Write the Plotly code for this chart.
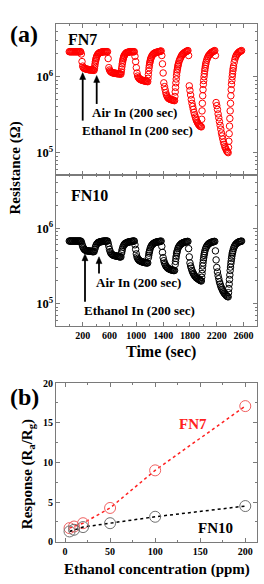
import plotly.graph_objects as go

# ---------------- data ----------------
# sampling times (s), one sample every 10 s
time_s = list(range(0, 2580, 10))

# log10(Resistance / Ohm), FN7 sensor
fn7_log = (
    [6.33] * 18 +
    # cycle 1 (exposure, recovery)
    [6.30, 6.20, 6.14, 6.12, 6.11, 6.11, 6.105, 6.10, 6.10, 6.10, 6.095, 6.095, 6.09, 6.09, 6.09, 6.09, 6.09, 6.09, 6.085, 6.085] +
    [6.14, 6.20, 6.24, 6.27, 6.29, 6.30, 6.31, 6.315, 6.32, 6.32, 6.325, 6.325, 6.33, 6.33, 6.33, 6.33, 6.33, 6.33, 6.33, 6.33] +
    # cycle 2
    [6.24, 6.12, 6.09, 6.075, 6.065, 6.06, 6.055, 6.05, 6.05, 6.05, 6.045, 6.045, 6.045, 6.04, 6.04, 6.04, 6.04, 6.04, 6.035, 6.035] +
    [6.10, 6.17, 6.22, 6.255, 6.28, 6.295, 6.305, 6.315, 6.32, 6.32, 6.325, 6.325, 6.33, 6.33, 6.33, 6.33, 6.33, 6.33, 6.33, 6.33] +
    # cycle 3
    [6.27, 6.20, 6.12, 6.05, 6.01, 5.99, 5.98, 5.97, 5.965, 5.96, 5.955, 5.955, 5.95, 5.95, 5.945, 5.945, 5.94, 5.94, 5.94, 5.935] +
    [6.03, 6.12, 6.18, 6.22, 6.25, 6.27, 6.285, 6.295, 6.305, 6.31, 6.315, 6.32, 6.32, 6.325, 6.325, 6.33, 6.33, 6.335, 6.335, 6.34] +
    # cycle 4
    [6.28, 6.17, 6.05, 5.92, 5.87, 5.83, 5.79, 5.76, 5.74, 5.725, 5.715, 5.71, 5.705, 5.70, 5.70, 5.695, 5.695, 5.69, 5.69, 5.685] +
    [5.80, 5.92, 6.02, 6.09, 6.14, 6.18, 6.21, 6.23, 6.25, 6.27, 6.285, 6.295, 6.305, 6.31, 6.32, 6.325, 6.33, 6.335, 6.34, 6.345] +
    # cycle 5
    [6.28, 5.88, 5.82, 5.76, 5.70, 5.65, 5.61, 5.57, 5.53, 5.50, 5.47, 5.44, 5.42, 5.40, 5.385, 5.37, 5.36, 5.35, 5.345, 5.34] +
    [5.55, 5.75, 5.90, 6.00, 6.08, 6.14, 6.19, 6.22, 6.245, 6.265, 6.28, 6.29, 6.30, 6.31, 6.32, 6.325, 6.33, 6.335, 6.34, 6.345] +
    # cycle 6
    [6.28, 5.66, 5.62, 5.57, 5.51, 5.46, 5.41, 5.36, 5.31, 5.26, 5.22, 5.18, 5.14, 5.11, 5.08, 5.06, 5.04, 5.02, 5.01, 5.00] +
    [5.15, 5.35, 5.55, 5.75, 5.90, 6.00, 6.08, 6.14, 6.19, 6.23, 6.26, 6.28, 6.295, 6.305, 6.315, 6.325, 6.33, 6.335, 6.34, 6.345]
)
# extra readings in the steep recovery parts (the instrument sampled faster than 10 s)
fn7_extra_t = [375, 385, 395, 405,
               775, 785, 795, 805, 815,
               1175, 1185, 1195, 1205, 1215,
               1575, 1585, 1595, 1605, 1615, 1625,
               1975, 1985, 1995, 2005, 2015, 2025, 2035,
               2375, 2385, 2395, 2405, 2415, 2425, 2435, 2445]
fn7_extra_log = [6.11, 6.17, 6.22, 6.255,
                 6.065, 6.135, 6.195, 6.24, 6.27,
                 5.98, 6.08, 6.15, 6.20, 6.235,
                 5.74, 5.86, 5.97, 6.06, 6.115, 6.16,
                 5.44, 5.65, 5.83, 5.95, 6.04, 6.11, 6.165,
                 5.07, 5.25, 5.45, 5.65, 5.83, 5.95, 6.04, 6.11]

# log10(Resistance / Ohm), FN10 sensor
fn10_log = (
    [5.83] * 18 +
    [5.82, 5.79, 5.76, 5.74, 5.725, 5.715, 5.71, 5.705, 5.70, 5.70, 5.70, 5.70, 5.695, 5.695, 5.695, 5.695, 5.69, 5.69, 5.69, 5.69] +
    [5.72, 5.75, 5.775, 5.79, 5.80, 5.81, 5.815, 5.815, 5.82, 5.82, 5.825, 5.825, 5.825, 5.83, 5.83, 5.83, 5.83, 5.83, 5.83, 5.83] +
    [5.80, 5.76, 5.72, 5.69, 5.67, 5.66, 5.65, 5.645, 5.64, 5.64, 5.635, 5.635, 5.63, 5.63, 5.63, 5.625, 5.625, 5.62, 5.62, 5.62] +
    [5.67, 5.72, 5.75, 5.77, 5.785, 5.795, 5.80, 5.805, 5.81, 5.815, 5.815, 5.82, 5.82, 5.82, 5.825, 5.825, 5.825, 5.83, 5.83, 5.83] +
    [5.78, 5.72, 5.66, 5.62, 5.60, 5.585, 5.575, 5.57, 5.565, 5.56, 5.555, 5.555, 5.55, 5.55, 5.545, 5.545, 5.545, 5.54, 5.54, 5.54] +
    [5.61, 5.67, 5.71, 5.74, 5.76, 5.775, 5.785, 5.795, 5.80, 5.805, 5.81, 5.815, 5.815, 5.82, 5.82, 5.82, 5.825, 5.825, 5.825, 5.83] +
    [5.76, 5.68, 5.61, 5.57, 5.54, 5.52, 5.50, 5.49, 5.48, 5.47, 5.465, 5.46, 5.455, 5.45, 5.45, 5.445, 5.445, 5.44, 5.44, 5.44] +
    [5.52, 5.60, 5.66, 5.70, 5.73, 5.75, 5.765, 5.775, 5.785, 5.795, 5.80, 5.805, 5.81, 5.81, 5.815, 5.82, 5.82, 5.82, 5.825, 5.825] +
    [5.73, 5.62, 5.54, 5.50, 5.47, 5.44, 5.42, 5.40, 5.385, 5.37, 5.36, 5.35, 5.34, 5.335, 5.33, 5.32, 5.315, 5.31, 5.305, 5.30] +
    [5.40, 5.50, 5.58, 5.64, 5.69, 5.72, 5.745, 5.76, 5.775, 5.785, 5.795, 5.80, 5.805, 5.81, 5.815, 5.815, 5.82, 5.82, 5.825, 5.825] +
    [5.70, 5.58, 5.48, 5.42, 5.37, 5.33, 5.29, 5.26, 5.23, 5.21, 5.19, 5.17, 5.155, 5.14, 5.13, 5.12, 5.11, 5.10, 5.095, 5.09] +
    [5.20, 5.32, 5.44, 5.53, 5.60, 5.66, 5.70, 5.73, 5.755, 5.77, 5.785, 5.795, 5.80, 5.81, 5.815, 5.82, 5.82, 5.825, 5.825, 5.83]
)
fn10_extra_t = [785, 1185, 1195, 1585, 1595, 1605,
                1975, 1985, 1995, 2005, 2015,
                2375, 2385, 2395, 2405, 2415, 2425, 2435]
fn10_extra_log = [5.695, 5.64, 5.69, 5.56, 5.63, 5.68,
                  5.35, 5.45, 5.54, 5.61, 5.665,
                  5.145, 5.26, 5.38, 5.485, 5.565, 5.63, 5.68]

# panel (b)
conc_ppm = [5, 10, 20, 50, 100, 200]
fn7_resp = [1.72, 1.92, 2.34, 4.26, 9.0, 17.1]
fn10_resp = [1.3, 1.51, 1.85, 2.34, 3.15, 4.5]


def merged(t_main, v_main, t_extra, v_extra):
    pairs = sorted(zip(list(t_main) + list(t_extra), list(v_main) + list(v_extra)))
    return [p[0] for p in pairs], [10 ** p[1] for p in pairs]


fn7_t, fn7_res = merged(time_s, fn7_log, fn7_extra_t, fn7_extra_log)
fn10_t, fn10_res = merged(time_s, fn10_log, fn10_extra_t, fn10_extra_log)

# ---------------- figure ----------------
FONT = "Liberation Serif"
GRAY = "#7a7a7a"

fig = go.Figure()
fig.add_trace(go.Scatter(
    x=fn7_t, y=fn7_res, mode="markers", xaxis="x", yaxis="y",
    marker=dict(symbol="circle-open", size=6.5, color="#ff0000", line=dict(width=1)),
    showlegend=False))
fig.add_trace(go.Scatter(
    x=fn10_t, y=fn10_res, mode="markers", xaxis="x2", yaxis="y2",
    marker=dict(symbol="circle-open", size=6.5, color="#000000", line=dict(width=1)),
    showlegend=False))
fig.add_trace(go.Scatter(
    x=conc_ppm, y=fn7_resp, mode="lines+markers", xaxis="x3", yaxis="y3",
    line=dict(color="#ff2020", dash="dot", width=1.5),
    marker=dict(symbol="circle-open", size=11, color="#f06060", line=dict(width=1)),
    showlegend=False))
fig.add_trace(go.Scatter(
    x=conc_ppm, y=fn10_resp, mode="lines+markers", xaxis="x3", yaxis="y3",
    line=dict(color="#000000", dash="dot", width=1.5),
    marker=dict(symbol="circle-open", size=11, color="#707070", line=dict(width=1)),
    showlegend=False))

tickfont = dict(family=FONT, size=10, color="black", weight="bold")
common = dict(showline=True, linecolor=GRAY, linewidth=1, mirror="allticks",
              ticks="inside", tickcolor=GRAY, ticklen=4, tickwidth=1,
              showgrid=False, zeroline=False, tickfont=tickfont)

xdom = [56 / 264, 257 / 264]
dom_top = [1 - 173 / 584, 1 - 18 / 584]
dom_mid = [1 - 327 / 584, 1 - 173 / 584]
dom_b = [1 - 547 / 584, 1 - 385 / 584]

xa_time = dict(range=[-198, 2800], tick0=200, dtick=400,
               minor=dict(dtick=200, tick0=0, ticks="inside", ticklen=2, tickcolor=GRAY))
ya_log = dict(type="log", range=[4.7, 6.7], dtick=1, exponentformat="power",
              minor=dict(dtick="D1", ticks="inside", ticklen=2, tickcolor=GRAY))

fig.update_layout(
    width=264, height=584,
    margin=dict(l=0, r=0, t=0, b=0),
    paper_bgcolor="white", plot_bgcolor="white",
    xaxis=dict(domain=xdom, anchor="y", showticklabels=False, **xa_time, **common),
    yaxis=dict(domain=dom_top, anchor="x", **ya_log, **common),
    xaxis2=dict(domain=xdom, anchor="y2", **xa_time, **common),
    yaxis2=dict(domain=dom_mid, anchor="x2", **ya_log, **common),
    xaxis3=dict(domain=xdom, anchor="y3", range=[-10, 213], dtick=50,
                minor=dict(dtick=25, ticks="inside", ticklen=2, tickcolor=GRAY), **common),
    yaxis3=dict(domain=dom_b, anchor="x3", range=[0, 20], dtick=5,
                minor=dict(dtick=2.5, ticks="inside", ticklen=2, tickcolor=GRAY), **common),
)


def label(text, x, y, size, color="black", angle=0):
    fig.add_annotation(text=text, x=x / 264, y=1 - y / 584, xref="paper", yref="paper",
                       showarrow=False, textangle=angle, xanchor="center", yanchor="middle",
                       font=dict(family=FONT, size=size, color=color, weight="bold"))


def arrow(x, y_head, y_tail):
    fig.add_shape(type="line", xref="paper", yref="paper",
                  x0=x / 264, x1=x / 264, y0=1 - y_tail / 584, y1=1 - (y_head + 5) / 584,
                  line=dict(color="black", width=1.8))
    xl, xr = (x - 3) / 264, (x + 3) / 264
    xt = x / 264
    yt, yb = 1 - y_head / 584, 1 - (y_head + 7) / 584
    fig.add_shape(type="path", xref="paper", yref="paper",
                  path=f"M {xl} {yb} L {xt} {yt} L {xr} {yb} Z",
                  fillcolor="black", line=dict(color="black", width=0.5))


label("(a)", 24, 29, 24)
label("(b)", 24, 399, 24)
label("FN7", 82, 34, 16)
label("FN10", 89, 193, 16)
label("Air In (200 sec)", 134, 109, 13)
label("Ethanol In (200 sec)", 137, 127.5, 13)
label("Air In (200 sec)", 138, 282.5, 13)
label("Ethanol In (200 sec)", 139, 311, 13)
arrow(82.7, 68, 117)
arrow(96.7, 71, 100)
arrow(85, 253, 302)
arrow(99, 256, 273)
label("Resistance (Ω)", 16, 166, 15, angle=-90)
label("Time (sec)", 161, 353, 16)
label("Response (R<sub>a</sub>/R<sub>g</sub>)", 28, 478, 15, angle=-90)
label("Ethanol concentration (ppm)", 157, 575, 15)
label("FN7", 193, 427, 15, color="#ff2020")
label("FN10", 215, 533, 15)

fig.write_html("out.html")
